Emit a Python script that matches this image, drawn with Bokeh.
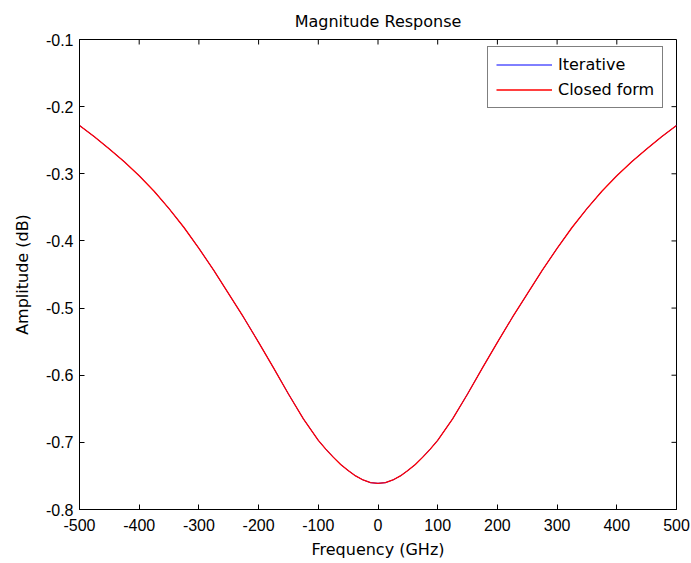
import math
from bokeh.plotting import figure
from bokeh.models import FixedTicker, Range1d, Legend, LegendItem
from bokeh.embed import file_html
from bokeh.resources import INLINE

# ---- data ----
freq_ghz = [-500, -475, -450, -425, -400, -375, -350, -325, -300, -275, -250,
            -225, -200, -175, -150, -125, -100, -87.5, -75, -62.5, -50, -37.5, -25, -12.5, 0,
            12.5, 25, 37.5, 50, 62.5, 75, 87.5, 100, 125, 150, 175, 200, 225, 250,
            275, 300, 325, 350, 375, 400, 425, 450, 475, 500]
closed_form_db = [-0.228, -0.245, -0.263, -0.282, -0.303, -0.326, -0.352, -0.380, -0.411, -0.444, -0.479,
                  -0.514, -0.551, -0.589, -0.628, -0.665, -0.697, -0.710, -0.722, -0.733, -0.742, -0.750, -0.756, -0.760, -0.761,
                  -0.760, -0.756, -0.750, -0.742, -0.733, -0.722, -0.710, -0.697, -0.665, -0.628, -0.589, -0.551, -0.514, -0.479,
                  -0.444, -0.411, -0.380, -0.352, -0.326, -0.303, -0.282, -0.263, -0.245, -0.228]
iterative_db = [-0.228, -0.245, -0.263, -0.282, -0.303, -0.326, -0.352, -0.380, -0.411, -0.444, -0.479,
                -0.514, -0.551, -0.589, -0.628, -0.665, -0.697, -0.710, -0.722, -0.733, -0.742, -0.750, -0.756, -0.760, -0.761,
                -0.760, -0.756, -0.750, -0.742, -0.733, -0.722, -0.710, -0.697, -0.665, -0.628, -0.589, -0.551, -0.514, -0.479,
                -0.444, -0.411, -0.380, -0.352, -0.326, -0.303, -0.282, -0.263, -0.245, -0.228]
x_ticks = [-500, -400, -300, -200, -100, 0, 100, 200, 300, 400, 500]
x_tick_labels = ["-500", "-400", "-300", "-200", "-100", "0", "100", "200", "300", "400", "500"]
y_ticks = [-0.8, -0.7, -0.6, -0.5, -0.4, -0.3, -0.2, -0.1]
y_tick_labels = ["-0.8", "-0.7", "-0.6", "-0.5", "-0.4", "-0.3", "-0.2", "-0.1"]

TICK_FONT = "Liberation Sans"
LABEL_FONT = "DejaVu Sans"
X_MIN, X_MAX = -500, 500
Y_MIN, Y_MAX = -0.8, -0.1

p = figure(width=691, height=563, output_backend="svg", toolbar_location=None,
           x_range=Range1d(X_MIN, X_MAX), y_range=Range1d(Y_MIN, Y_MAX),
           min_border_left=79, min_border_right=15, min_border_top=39, min_border_bottom=54,
           background_fill_color="white", border_fill_color="white")
p.grid.visible = False
p.outline_line_color = "black"
p.outline_line_width = 1

p.title.text = "Magnitude Response"
p.title.align = "center"
p.title.text_font = LABEL_FONT
p.title.text_font_size = "16px"
p.title.text_font_style = "normal"
p.title.text_color = "black"
p.title.standoff = 17


def style_axis(ax):
    ax.axis_line_color = "black"
    ax.major_tick_line_color = "black"
    ax.major_tick_in = 5
    ax.major_tick_out = 0
    ax.minor_tick_line_color = None
    ax.major_label_text_font = TICK_FONT
    ax.major_label_text_font_size = "16px"
    ax.major_label_text_color = "black"
    ax.axis_label_text_font = LABEL_FONT
    ax.axis_label_text_font_size = "16px"
    ax.axis_label_text_font_style = "normal"
    ax.axis_label_text_color = "black"


xa = p.xaxis[0]
xa.ticker = FixedTicker(ticks=x_ticks)
xa.major_label_overrides = {t: s for t, s in zip(x_ticks, x_tick_labels)}
xa.axis_label = "Frequency (GHz)"
style_axis(xa)
xa.major_label_standoff = 9
xa.axis_label_standoff = 6

ya = p.yaxis[0]
ya.ticker = FixedTicker(ticks=y_ticks)
ya.major_label_overrides = {t: s for t, s in zip(y_ticks, y_tick_labels)}
ya.axis_label = "Amplitude (dB)"
style_axis(ya)
ya.major_label_standoff = 6
ya.axis_label_standoff = 11

# inward tick marks on the top and right edges of the box
p.ray(x=x_ticks, y=Y_MAX, length=5, length_units="screen", angle=-math.pi / 2,
      line_color="black", line_width=1)
p.ray(x=X_MAX, y=y_ticks, length=5, length_units="screen", angle=math.pi,
      line_color="black", line_width=1)

r_it = p.line(freq_ghz, iterative_db, line_color="blue", line_width=1)
r_cf = p.line(freq_ghz, closed_form_db, line_color="red", line_width=1.3)

legend = Legend(items=[LegendItem(label="Iterative", renderers=[r_it]),
                       LegendItem(label="Closed form", renderers=[r_cf])],
                location=(408, 401))
legend.border_line_color = "black"
legend.border_line_width = 1
legend.background_fill_color = "white"
legend.background_fill_alpha = 1
legend.label_text_font = LABEL_FONT
legend.label_text_font_size = "16px"
legend.label_text_color = "black"
legend.padding = 8
legend.spacing = 6
legend.margin = 0
legend.glyph_width = 56
legend.glyph_height = 19
legend.label_height = 19
legend.label_standoff = 6
p.add_layout(legend, "center")

open("out.html", "w").write(file_html(p, INLINE))
